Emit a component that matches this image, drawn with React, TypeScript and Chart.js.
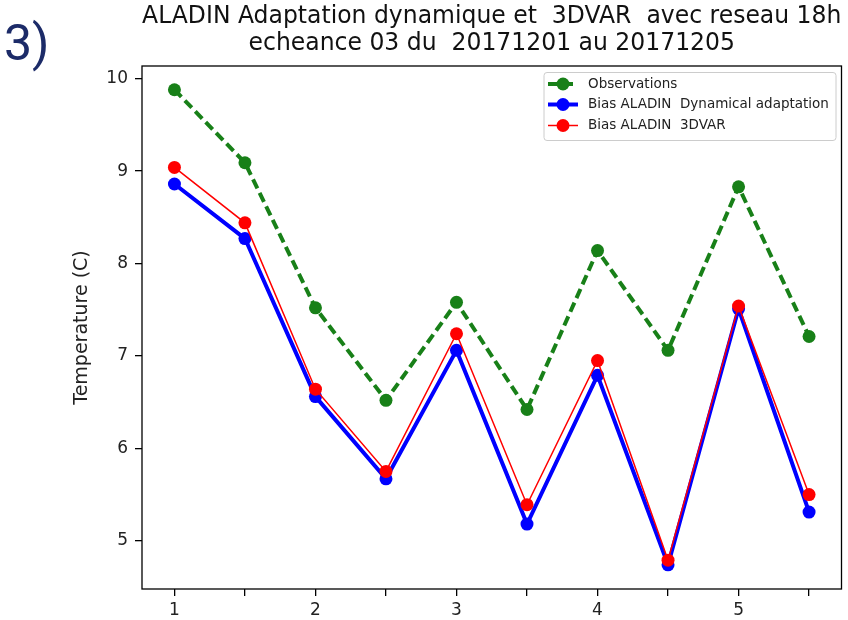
import { useEffect, useRef } from 'react';
import { Chart, registerables } from 'chart.js';

Chart.register(...registerables);

const xValues = [1, 1.5, 2, 2.5, 3, 3.5, 4, 4.5, 5, 5.5];
const observations = [9.88, 9.09, 7.52, 6.52, 7.58, 6.42, 8.14, 7.06, 8.83, 7.21];
const biasDynamical = [8.86, 8.27, 6.56, 5.67, 7.06, 5.18, 6.79, 4.74, 7.51, 5.31];
const bias3dvar = [9.04, 8.44, 6.64, 5.75, 7.24, 5.39, 6.95, 4.79, 7.54, 5.5];

const xTicks = [1, 1.5, 2, 2.5, 3, 3.5, 4, 4.5, 5, 5.5];
const yTicks = [5, 6, 7, 8, 9, 10];
const xLimits = [0.77, 5.73];
const yLimits = [4.478, 10.137];

const titleLines = [
  'ALADIN Adaptation dynamique et  3DVAR  avec reseau 18h',
  'echeance 03 du  20171201 au 20171205',
];
const yAxisTitle = 'Temperature (C)';
const seriesLabels = ['Observations', 'Bias ALADIN  Dynamical adaptation', 'Bias ALADIN  3DVAR'];
const panelLabel = '3)';

const FONT = '"DejaVu Sans", sans-serif';

const decorPlugin = {
  id: 'decor',
  afterDraw(chart: any) {
    const { ctx, chartArea } = chart;
    const { left, right, top, bottom } = chartArea;
    ctx.save();
    // frame
    ctx.strokeStyle = '#000';
    ctx.lineWidth = 1.3;
    ctx.strokeRect(left, top, right - left, bottom - top);

    // title
    ctx.fillStyle = '#111';
    ctx.textAlign = 'center';
    ctx.textBaseline = 'middle';
    const cx = (left + right) / 2;
    [17, 44].forEach((ty, i) => {
      ctx.save();
      ctx.translate(cx, ty);
      ctx.scale(1, 1.06);
      ctx.font = `23.5px ${FONT}`;
      ctx.fillText(titleLines[i], 0, 0);
      ctx.restore();
    });

    // y axis title
    ctx.save();
    ctx.translate(82, (top + bottom) / 2);
    ctx.rotate(-Math.PI / 2);
    ctx.font = `19px ${FONT}`;
    ctx.fillStyle = '#222';
    ctx.fillText(yAxisTitle, 0, 0);
    ctx.restore();

    // legend
    const bx = 544, by = 72.5, bw = 292, bh = 68;
    ctx.beginPath();
    ctx.roundRect(bx, by, bw, bh, 3);
    ctx.fillStyle = 'rgba(255,255,255,0.8)';
    ctx.fill();
    ctx.strokeStyle = '#cccccc';
    ctx.lineWidth = 1;
    ctx.stroke();

    const rows = [84, 104.5, 125.5];
    const legendOrder = [0, 1, 2];
    legendOrder.forEach((di, i) => {
      const ds = chart.data.datasets[di];
      const y = rows[i];
      ctx.save();
      ctx.strokeStyle = ds.borderColor;
      ctx.lineWidth = ds.borderWidth;
      ctx.setLineDash(ds.borderDash || []);
      ctx.beginPath();
      ctx.moveTo(548, y);
      ctx.lineTo(578, y);
      ctx.stroke();
      ctx.setLineDash([]);
      ctx.fillStyle = ds.pointBackgroundColor;
      ctx.beginPath();
      ctx.arc(563, y, ds.pointRadius, 0, Math.PI * 2);
      ctx.fill();
      ctx.restore();
      ctx.fillStyle = '#222';
      ctx.font = `13.5px ${FONT}`;
      ctx.textAlign = 'left';
      ctx.textBaseline = 'middle';
      ctx.fillText(ds.label, 588, y);
    });
    ctx.restore();
  },
};

export default function App() {
  const canvasRef = useRef<HTMLCanvasElement | null>(null);

  useEffect(() => {
    if (!canvasRef.current) return;
    const toPoints = (ys: number[]) => xValues.map((x, i) => ({ x, y: ys[i] }));
    const chart = new Chart(canvasRef.current, {
      type: 'line',
      data: {
        datasets: [
          {
            label: seriesLabels[0],
            data: toPoints(observations),
            borderColor: '#188018',
            backgroundColor: '#188018',
            pointBackgroundColor: '#188018',
            borderWidth: 4,
            borderDash: [10, 5],
            pointRadius: 6.5,
            pointBorderWidth: 0,
            order: 3,
          },
          {
            label: seriesLabels[1],
            data: toPoints(biasDynamical),
            borderColor: '#0000ff',
            backgroundColor: '#0000ff',
            pointBackgroundColor: '#0000ff',
            borderWidth: 4,
            pointRadius: 6.5,
            pointBorderWidth: 0,
            order: 2,
          },
          {
            label: seriesLabels[2],
            data: toPoints(bias3dvar),
            borderColor: '#ff0000',
            backgroundColor: '#ff0000',
            pointBackgroundColor: '#ff0000',
            borderWidth: 1.5,
            pointRadius: 6.5,
            pointBorderWidth: 0,
            order: 1,
          },
        ],
      },
      options: {
        responsive: false,
        animation: false,
        devicePixelRatio: 1,
        layout: { padding: { top: 66, right: 4, left: 0, bottom: 0 } },
        plugins: {
          legend: { display: false },
          title: { display: false },
          tooltip: { enabled: false },
        },
        scales: {
          x: {
            type: 'linear',
            min: xLimits[0],
            max: xLimits[1],
            afterBuildTicks: (s: any) => {
              s.ticks = xTicks.map((v) => ({ value: v }));
            },
            afterFit: (s: any) => {
              s.height = 31;
            },
            border: { display: false },
            grid: { drawOnChartArea: false, drawTicks: true, tickLength: 7, color: '#000', lineWidth: 1.3 },
            ticks: {
              autoSkip: false,
              maxRotation: 0,
              padding: 4,
              color: '#222',
              font: { family: FONT, size: 17 },
              callback: (v: any) => (Number.isInteger(Number(v)) ? String(v) : ''),
            },
          },
          y: {
            type: 'linear',
            min: yLimits[0],
            max: yLimits[1],
            afterBuildTicks: (s: any) => {
              s.ticks = yTicks.map((v) => ({ value: v }));
            },
            afterFit: (s: any) => {
              s.width = 142;
            },
            border: { display: false },
            grid: { drawOnChartArea: false, drawTicks: true, tickLength: 7, color: '#000', lineWidth: 1.3 },
            ticks: {
              padding: 7,
              color: '#222',
              font: { family: FONT, size: 17 },
              callback: (v: any) => String(v),
            },
          },
        },
      },
      plugins: [decorPlugin],
    });
    return () => chart.destroy();
  }, []);

  return (
    <div style={{ position: 'absolute', left: 0, top: 0, width: 848, height: 620, background: '#fff' }}>
      <div
        style={{
          position: 'absolute',
          left: 4,
          top: 18,
          fontFamily: 'Roboto, sans-serif',
          fontSize: 50,
          lineHeight: '50px',
          color: '#1c2b68',
        }}
      >
        {panelLabel}
      </div>
      <canvas ref={canvasRef} width={848} height={620} style={{ position: 'absolute', left: 0, top: 0 }} />
    </div>
  );
}
